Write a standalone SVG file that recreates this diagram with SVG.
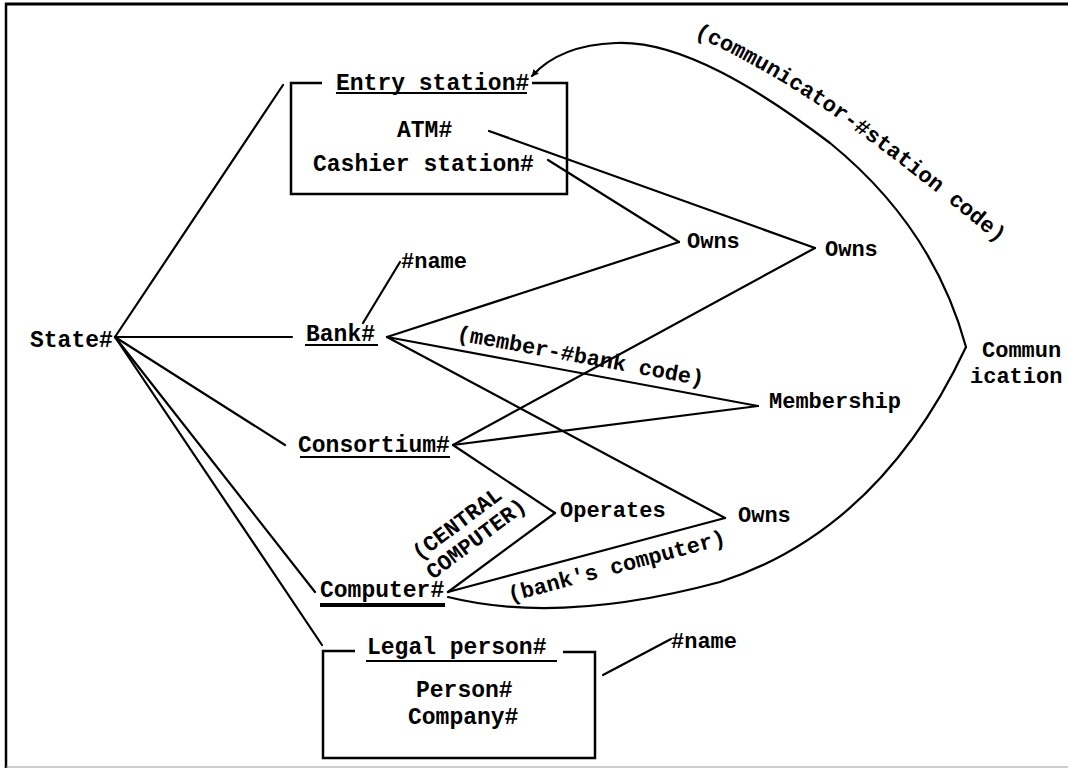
<svg xmlns="http://www.w3.org/2000/svg" width="1068" height="769" viewBox="0 0 1068 769">
  <style>
    text { font-family: "Liberation Mono", "Courier New", monospace; font-weight: bold; fill: #000; }
    .ent { font-size: 23px; }
    .lbl { font-size: 22px; }
    .ln { stroke: #000; stroke-width: 2.2; fill: none; stroke-linecap: round; }
    .box { stroke: #000; stroke-width: 2.5; fill: none; }
    .ul { stroke: #000; stroke-width: 2.2; }
  </style>
  <defs>
    <marker id="arrow" viewBox="0 0 10 10" refX="9" refY="5" markerWidth="7" markerHeight="7" orient="auto" markerUnits="userSpaceOnUse">
      <path d="M0,0 L10,5 L0,10 z" fill="#000"/>
    </marker>
    <!-- baseline for the curved role label outside the Communication arc -->
    <path id="commPath" d="M 694 36 C 795 80, 885 150, 995 240"/>
  </defs>

  <rect width="1068" height="769" fill="#fff"/>

  <!-- page frame -->
  <g id="frame">
    <line x1="5" y1="4" x2="1068" y2="4" stroke="#000" stroke-width="3"/>
    <line x1="6" y1="3" x2="6" y2="768" stroke="#000" stroke-width="2.5"/>
    <line x1="6" y1="767" x2="1068" y2="767" stroke="#999" stroke-width="1"/>
  </g>

  <!-- connectors -->
  <g id="connectors">
    <!-- State# spokes -->
    <line class="ln" x1="115" y1="337" x2="283" y2="85"/>
    <line class="ln" x1="115" y1="337" x2="292" y2="337"/>
    <line class="ln" x1="115" y1="337" x2="285" y2="445"/>
    <line class="ln" x1="115" y1="337" x2="315" y2="592"/>
    <line class="ln" x1="115" y1="337" x2="322" y2="645"/>
    <!-- attributes -->
    <line class="ln" x1="363" y1="323" x2="400" y2="262"/>
    <line class="ln" x1="603" y1="675" x2="671" y2="639"/>
    <!-- Owns (station by bank) -->
    <line class="ln" x1="548" y1="160" x2="679" y2="242"/>
    <line class="ln" x1="387" y1="337" x2="679" y2="242"/>
    <!-- Owns (ATM by consortium) -->
    <line class="ln" x1="489" y1="131" x2="815" y2="248"/>
    <line class="ln" x1="815" y1="248" x2="453" y2="445"/>
    <!-- Membership -->
    <line class="ln" x1="387" y1="337" x2="758" y2="406"/>
    <line class="ln" x1="453" y1="445" x2="758" y2="406"/>
    <!-- Owns (bank's computer) -->
    <line class="ln" x1="387" y1="337" x2="725" y2="518"/>
    <line class="ln" x1="725" y1="518" x2="448" y2="592"/>
    <!-- Operates -->
    <line class="ln" x1="453" y1="445" x2="555" y2="513"/>
    <line class="ln" x1="555" y1="513" x2="448" y2="592"/>
    <!-- Communication -->
    <path class="ln" d="M 448 597 Q 560 625 720 582 Q 880 530 966 347"/>
    <path class="ln" d="M 966 347 C 945 270, 900 200, 830 143 C 760 90, 680 40, 616 43 Q 560 45, 532 76" marker-end="url(#arrow)"/>
  </g>

  <!-- connector labels -->
  <g id="connector-labels">
    <text class="lbl" font-size="21" transform="translate(456 340) rotate(10.5)">(member-#bank code)</text>
    <text class="lbl" transform="translate(510 602) rotate(-15)">(bank's computer)</text>
    <text class="lbl" transform="translate(419 561) rotate(-37)">(CENTRAL</text>
    <text class="lbl" transform="translate(433 580) rotate(-37)">COMPUTER)</text>
    <text class="lbl"><textPath href="#commPath" startOffset="0">(communicator-</textPath></text>
    <text class="lbl"><textPath href="#commPath" startOffset="184.8">#station</textPath></text>
    <text class="lbl"><textPath href="#commPath" startOffset="303.6">code)</textPath></text>
  </g>

  <g id="entry-station">
    <path class="box" d="M 322 83 H 291 V 194 H 567 V 83 H 532"/>
    <text class="ent" x="336" y="90">Entry station#</text>
    <line class="ul" x1="336" y1="93" x2="527" y2="93"/>
    <text class="ent" x="397" y="137">ATM#</text>
    <text class="ent" x="313" y="171">Cashier station#</text>
  </g>

  <g id="state">
    <text class="ent" x="30" y="347">State#</text>
  </g>

  <g id="bank">
    <text class="ent" x="306" y="341">Bank#</text>
    <line class="ul" x1="305" y1="345" x2="378" y2="345"/>
  </g>

  <g id="bank-name">
    <text class="lbl" x="401" y="268">#name</text>
  </g>

  <g id="consortium">
    <text class="ent" x="298" y="452">Consortium#</text>
    <line class="ul" x1="300" y1="457" x2="450" y2="457"/>
  </g>

  <g id="computer">
    <text class="ent" x="320" y="597">Computer#</text>
    <line x1="320" y1="605" x2="445" y2="605" stroke="#000" stroke-width="4"/>
  </g>

  <g id="legal-person">
    <path class="box" d="M 355 651 H 323 V 758 H 595 V 652 H 563"/>
    <text class="ent" x="367" y="654">Legal person#</text>
    <line class="ul" x1="366" y1="661" x2="557" y2="661"/>
    <text class="ent" x="416" y="697">Person#</text>
    <text class="ent" x="408" y="724">Company#</text>
  </g>

  <g id="legal-name">
    <text class="lbl" x="671" y="648">#name</text>
  </g>

  <g id="owns-station">
    <text class="lbl" x="687" y="248">Owns</text>
  </g>

  <g id="owns-atm">
    <text class="lbl" x="825" y="256">Owns</text>
  </g>

  <g id="membership">
    <text class="lbl" x="769" y="408">Membership</text>
  </g>

  <g id="operates">
    <text class="lbl" x="560" y="517">Operates</text>
  </g>

  <g id="owns-computer">
    <text class="lbl" x="738" y="522">Owns</text>
  </g>

  <g id="communication">
    <text class="lbl" x="982" y="357">Commun</text>
    <text class="lbl" x="970" y="383">ication</text>
  </g>
</svg>
